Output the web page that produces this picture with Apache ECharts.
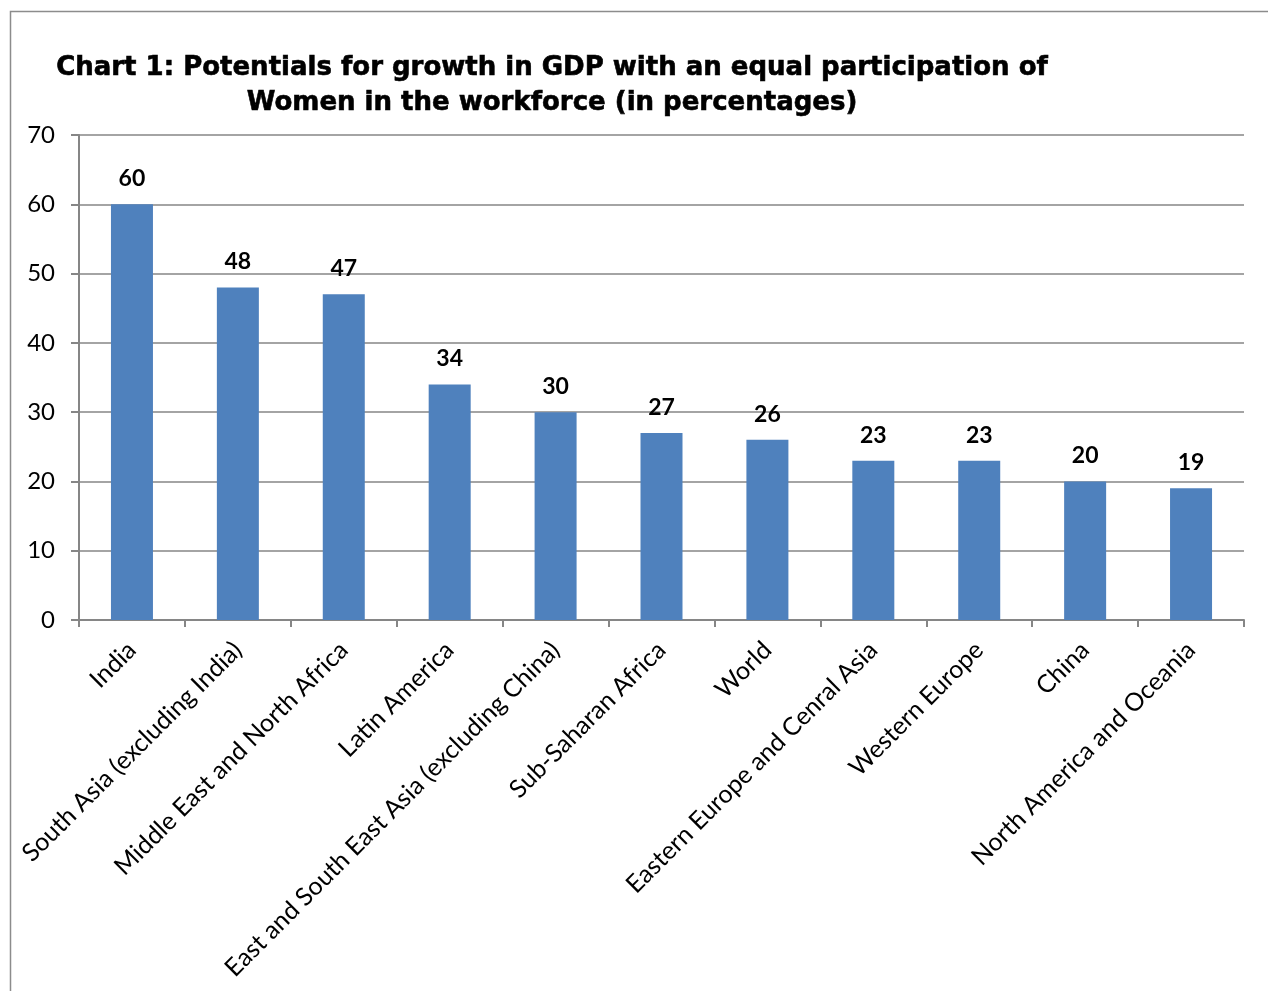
<!DOCTYPE html>
<html>
<head>
<meta charset="utf-8">
<script src="https://cdn.jsdelivr.net/npm/echarts@6/dist/echarts.min.js"></script>
<style>
  html, body { margin: 0; padding: 0; background: #fff; }
  #chart { width: 1268px; height: 991px; }
</style>
</head>
<body>
<div id="chart"></div>
<script>
const regions = [
  'India',
  'South Asia (excluding India)',
  'Middle East and North Africa',
  'Latin America',
  'East and South East Asia (excluding China)',
  'Sub-Saharan Africa',
  'World',
  'Eastern Europe and Cenral Asia',
  'Western Europe',
  'China',
  'North America and Oceania'
];
const growth = [60, 48, 47, 34, 30, 27, 26, 23, 23, 20, 19];

const chart = echarts.init(document.getElementById('chart'));

chart.setOption({
  animation: false,
  backgroundColor: '#fff',
  title: {
    text: 'Chart 1: Potentials for growth in GDP with an equal participation of\nWomen in the workforce (in percentages)',
    left: 547,
    top: 46,
    textAlign: 'center',
    textStyle: {
      fontFamily: 'DejaVu Sans',
      fontWeight: 'bold',
      fontSize: 26,
      lineHeight: 35,
      color: '#000',
      textBorderColor: '#000',
      textBorderWidth: 0.6
    }
  },
  graphic: [{
    type: 'rect',
    shape: { x: 10.5, y: 11.5, width: 1300, height: 1000 },
    style: { fill: 'none', stroke: '#8c8c8c', lineWidth: 1.5 },
    silent: true
  }],
  grid: { left: 79, right: 24, top: 135, bottom: 371 },
  xAxis: {
    type: 'category',
    data: regions,
    axisLine: { lineStyle: { color: '#868686', width: 2 } },
    axisTick: { show: true, length: 7, lineStyle: { color: '#868686', width: 2 } },
    axisLabel: {
      interval: 0,
      rotate: 45,
      margin: 26,
      fontFamily: 'Lato',
      fontSize: 25,
      color: '#000'
    }
  },
  yAxis: {
    type: 'value',
    min: 0,
    max: 70,
    interval: 10,
    axisLine: { show: true, lineStyle: { color: '#868686', width: 2 } },
    axisTick: { show: true, length: 8, lineStyle: { color: '#868686', width: 2 } },
    splitLine: { lineStyle: { color: '#868686', width: 1.5 } },
    axisLabel: {
      margin: 24,
      fontFamily: 'Lato',
      fontSize: 24,
      color: '#000'
    }
  },
  series: [{
    type: 'bar',
    data: growth,
    barWidth: 42,
    itemStyle: { color: '#4F81BD' },
    label: {
      show: true,
      position: 'top',
      distance: 14,
      fontFamily: 'Lato',
      fontWeight: 'bold',
      fontSize: 23,
      color: '#000'
    }
  }]
});
</script>
</body>
</html>
